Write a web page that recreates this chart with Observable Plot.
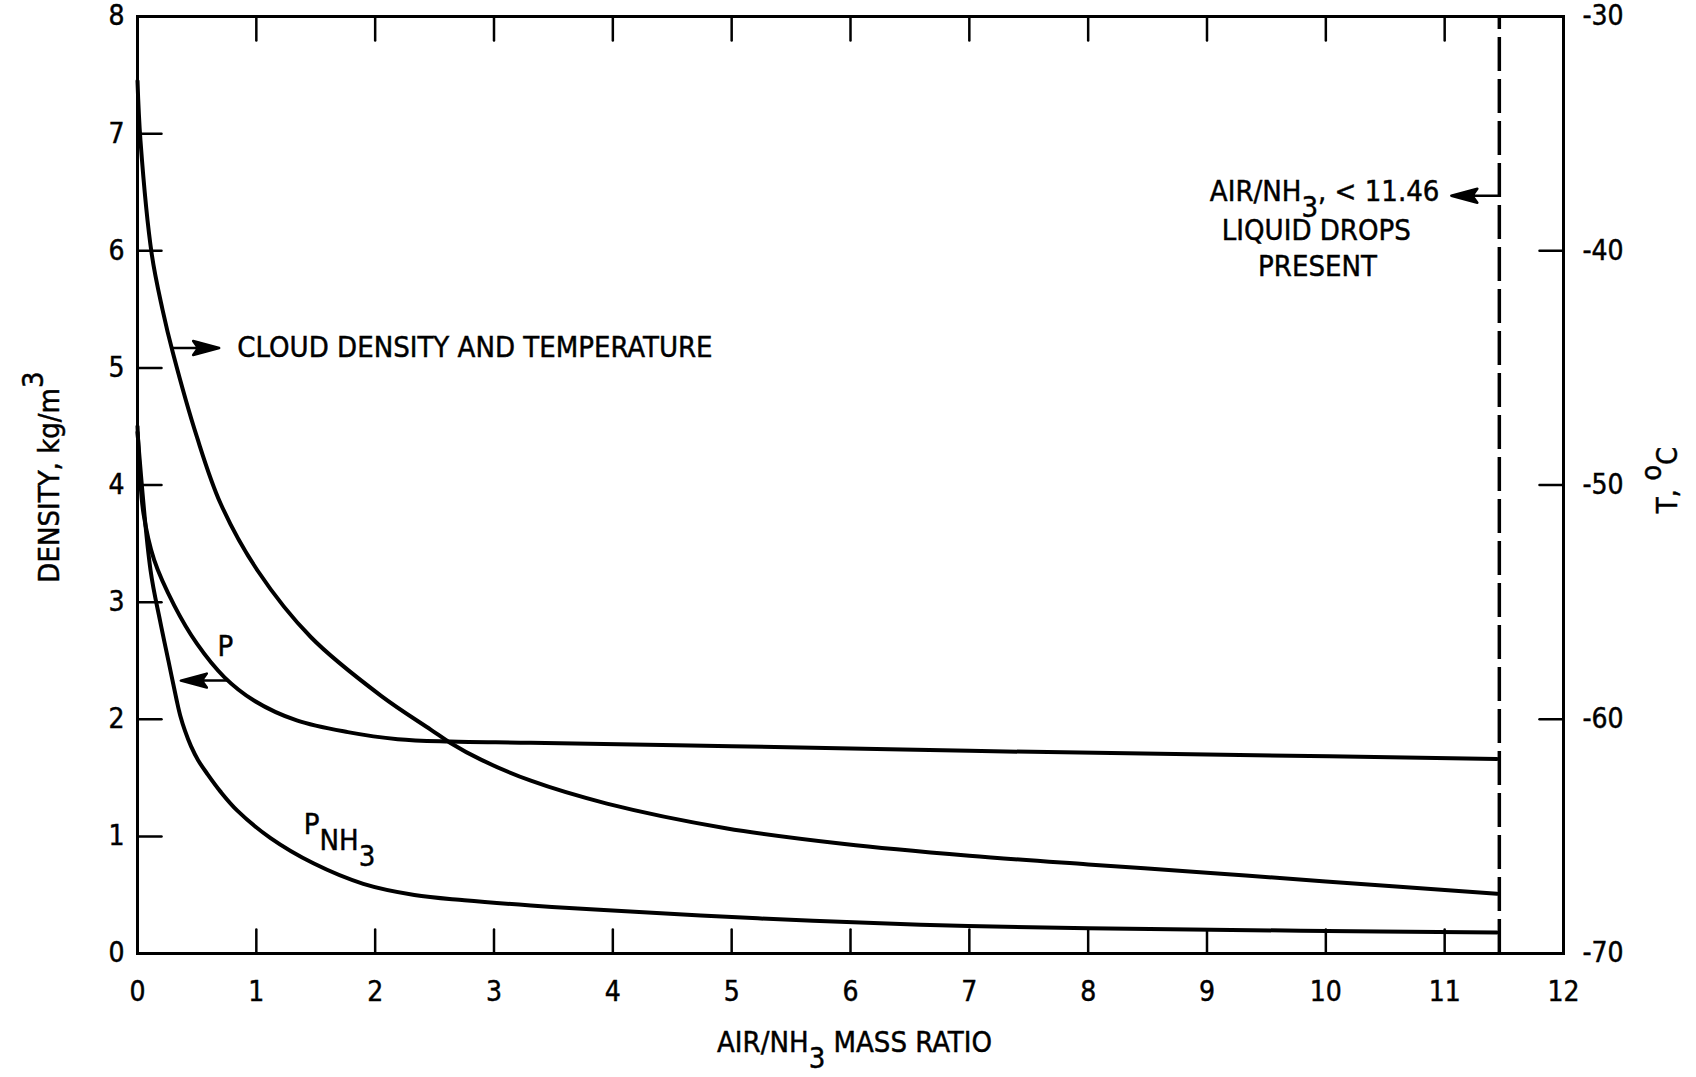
<!DOCTYPE html>
<html><head><meta charset="utf-8">
<script src="https://cdn.jsdelivr.net/npm/d3@7"></script>
<script src="https://cdn.jsdelivr.net/npm/@observablehq/plot@0.6"></script>
<style>
body{margin:0;background:#fff}
svg{display:block}
svg text{stroke:#000;stroke-width:0.45px}
</style>
</head><body><div id="chart"></div>
<script>
// ---- data ----
const cloudX = [0, 0.025, 0.12, 0.21, 0.30, 0.50, 0.70, 1.01, 1.46, 2.05, 2.47, 2.63, 2.89, 3.31, 3.95, 4.95, 5.95, 7.0, 8.0, 9.0, 10.0, 11.44];
const cloudY = [7.45, 6.94, 5.97, 5.50, 5.12, 4.41, 3.84, 3.27, 2.70, 2.20, 1.91, 1.80, 1.655, 1.475, 1.28, 1.07, 0.935, 0.835, 0.76, 0.69, 0.615, 0.51];
const pX = [0, 0.02, 0.05, 0.14, 0.31, 0.50, 0.73, 0.98, 1.34, 1.77, 2.19, 2.63, 3.31, 5.0, 7.0, 9.0, 11.44];
const pY = [4.5, 4.1, 3.76, 3.36, 2.97, 2.645, 2.36, 2.16, 1.99, 1.89, 1.83, 1.81, 1.80, 1.77, 1.73, 1.70, 1.66];
const pnh3X = [0, 0.11, 0.19, 0.26, 0.33, 0.36, 0.40, 0.45, 0.51, 0.59, 0.70, 0.84, 1.12, 1.48, 1.90, 2.33, 2.75, 3.31, 3.85, 5.22, 6.59, 8.0, 9.79, 11.44];
const pnh3Y = [4.45, 3.27, 2.84, 2.50, 2.16, 2.03, 1.90, 1.77, 1.65, 1.53, 1.38, 1.22, 0.985, 0.77, 0.595, 0.50, 0.455, 0.41, 0.375, 0.30, 0.245, 0.215, 0.195, 0.18];
const liquidLimit = [11.46];
const xTicks = [0,1,2,3,4,5,6,7,8,9,10,11,12];
const yTicks = [0,1,2,3,4,5,6,7,8];
const tempTicks = [-30,-40,-50,-60,-70];
const xInnerTicks = [1,2,3,4,5,6,7,8,9,10,11];
const yInnerTicks = [1,2,3,4,5,6,7];
const tempInnerTicks = [-40,-50,-60];
const xLabel = "AIR/NH_{3} MASS RATIO";
const yLabel = "DENSITY, kg/m^{3}";
const y2Label = "T, ^{o}C";

const toDensity = t => (t + 70) / 5; // right axis: -70..-30 °C spans 0..8

const series = (name, xs, ys) => xs.map((x, i) => ({series: name, x, y: ys[i]}));
const curves = [...series("cloud", cloudX, cloudY), ...series("P", pX, pY), ...series("PNH3", pnh3X, pnh3Y)];

const font = "'DejaVu Sans Condensed','DejaVu Sans',sans-serif";
const tickShape = {draw(ctx, l) { ctx.moveTo(0, 0); ctx.lineTo(0, -l); }};
const arrowShape = {draw(ctx, l) {
  ctx.moveTo(0, 0); ctx.lineTo(0, -l + 12);
  ctx.moveTo(0, -l); ctx.lineTo(-7, -l + 26); ctx.lineTo(0, -l + 21); ctx.lineTo(7, -l + 26); ctx.closePath();
}};

const chart = Plot.plot({
  width: 1696, height: 1077,
  marginLeft: 137, marginRight: 133, marginTop: 16, marginBottom: 124,
  x: {domain: [0, 12], axis: null},
  y: {domain: [0, 8], axis: null},
  style: {fontFamily: font, fontStretch: "condensed", fontSize: "25px", background: "white", color: "black"},
  marks: [
    Plot.frame({strokeWidth: 3, stroke: "#000"}),
    // inward ticks
    Plot.vector(xInnerTicks, {x: d => d, y: 0, length: 24, rotate: 0, anchor: "start", shape: tickShape, strokeWidth: 2.5}),
    Plot.vector(xInnerTicks, {x: d => d, y: 8, length: 24, rotate: 180, anchor: "start", shape: tickShape, strokeWidth: 2.5}),
    Plot.vector(yInnerTicks, {x: 0, y: d => d, length: 24, rotate: 90, anchor: "start", shape: tickShape, strokeWidth: 2.5}),
    Plot.vector(tempInnerTicks, {x: 12, y: t => toDensity(t), length: 24, rotate: -90, anchor: "start", shape: tickShape, strokeWidth: 2.5}),
    // tick labels
    Plot.text(xTicks, {x: d => d, y: 0, dy: 39, text: d => String(d), fontSize: 28}),
    Plot.text(yTicks, {x: 0, y: d => d, dx: -13, textAnchor: "end", text: d => String(d), fontSize: 28}),
    Plot.text(tempTicks, {x: 12, y: t => toDensity(t), dx: 19, textAnchor: "start", text: t => String(t), fontSize: 28}),
    // axis labels
    Plot.text([xLabel], {frameAnchor: "bottom", textAnchor: "middle", lineAnchor: "middle", text: d => d, dy: 89, dx: 4, fontSize: 29}),
    Plot.text([yLabel], {frameAnchor: "left", textAnchor: "middle", lineAnchor: "middle", text: d => d, dx: -88, dy: -8, rotate: -90, fontSize: 29}),
    Plot.text([y2Label], {frameAnchor: "right", textAnchor: "middle", lineAnchor: "middle", text: d => d, dx: 104, dy: -5, rotate: -90, fontSize: 29}),
    // dashed limit
    Plot.ruleX(liquidLimit, {y1: 0, y2: 8, stroke: "#000", strokeWidth: 3.5, strokeDasharray: "34,8"}),
    // curves
    Plot.line(curves, {x: "x", y: "y", z: "series", curve: "catmull-rom", stroke: "#000", strokeWidth: 4}),
    // annotations
    Plot.vector([0], {x: 0.30, y: 5.17, length: 46, rotate: 90, anchor: "start", shape: arrowShape, fill: "#000", stroke: "#000", strokeWidth: 2.5}),
    Plot.text(["CLOUD DENSITY AND TEMPERATURE"], {x: 0.84, y: 5.17, text: d => d, textAnchor: "start", fontSize: 29}),
    Plot.vector([0], {x: 0.76, y: 2.33, length: 47, rotate: -90, anchor: "start", shape: arrowShape, fill: "#000", stroke: "#000", strokeWidth: 2.5}),
    Plot.text(["P"], {x: 0.74, y: 2.62, text: d => d, fontSize: 29}),
    Plot.text(["P_{NH_{3}}"], {x: 1.40, y: 1.10, text: d => d, textAnchor: "start", fontSize: 29}),
    Plot.vector(liquidLimit, {x: d => d, y: 6.47, length: 48, rotate: -90, anchor: "start", shape: arrowShape, fill: "#000", stroke: "#000", strokeWidth: 2.5}),
    Plot.text(["AIR/NH_{3}, < 11.46"], {x: 9.99, y: 6.50, text: d => d, fontSize: 29}),
    Plot.text(["LIQUID DROPS"], {x: 9.92, y: 6.17, text: d => d, fontSize: 29}),
    Plot.text(["PRESENT"], {x: 9.93, y: 5.86, text: d => d, fontSize: 29})
  ]
});

// rich text: _{...} subscript, ^{...} superscript
function parseRich(s) {
  const out = []; const stack = []; let level = 0;
  for (let i = 0; i < s.length; i++) {
    const c = s[i];
    if ((c === "_" || c === "^") && s[i + 1] === "{") { const d = c === "_" ? 1 : -1; stack.push(d); level += d; i++; continue; }
    if (c === "}" && stack.length) { level -= stack.pop(); continue; }
    if (out.length && out[out.length - 1].level === level) out[out.length - 1].text += c;
    else out.push({text: c, level});
  }
  return out;
}
chart.querySelectorAll("text").forEach(t => {
  const s = t.textContent;
  if (!/[_^]\{/.test(s)) return;
  const parts = parseRich(s);
  t.textContent = "";
  let prev = 0;
  for (const p of parts) {
    const ts = document.createElementNS("http://www.w3.org/2000/svg", "tspan");
    const shift = (p.level - prev) * 0.55;
    if (shift) ts.setAttribute("dy", `${shift}em`);
    ts.textContent = p.text;
    t.appendChild(ts);
    prev = p.level;
  }
});
document.getElementById("chart").appendChild(chart);
</script>
</body></html>
